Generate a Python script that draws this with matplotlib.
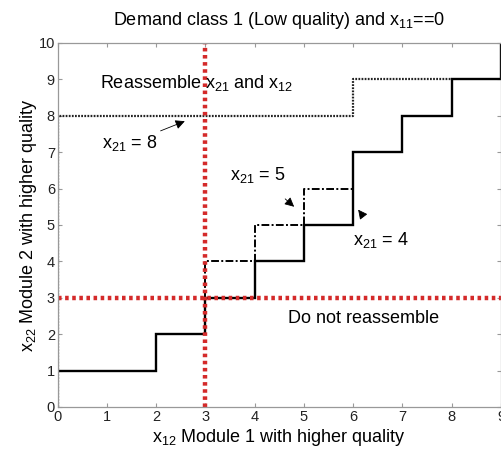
import matplotlib
matplotlib.use("Agg")
import matplotlib.pyplot as plt

plt.rcParams['font.family'] = ['Liberation Sans', 'DejaVu Sans']
plt.rcParams['mathtext.fontset'] = 'custom'
plt.rcParams['mathtext.rm'] = 'Liberation Sans'
plt.rcParams['mathtext.default'] = 'regular'

# policy boundaries (step curves) for x21 = 4, 5, 8
x_b4 = [0, 2, 2, 3, 3, 4, 4, 5, 5, 6, 6, 7, 7, 8, 8, 9, 9]
y_b4 = [1, 1, 2, 2, 3, 3, 4, 4, 5, 5, 7, 7, 8, 8, 9, 9, 10]
x_b5 = [3, 3, 4, 4, 5, 5, 6]
y_b5 = [3, 4, 4, 5, 5, 6, 6]
x_b8 = [0, 0, 6, 6, 8]
y_b8 = [0, 8, 8, 9, 9]
x_thresh = 3
y_thresh = 3
xticks = list(range(0, 10))
yticks = list(range(0, 11))

fig = plt.figure(figsize=(5.02, 4.5), dpi=100)
ax = fig.add_axes([0.115, 0.0956, 0.883, 0.809])

ax.plot(x_b4, y_b4, color='black', lw=1.7, solid_joinstyle='miter')
ax.plot(x_b5, y_b5, color='black', lw=1.4, linestyle=(0, (4, 1.2, 1, 1.2)))
ax.plot(x_b8, y_b8, color='#222222', lw=1.6, linestyle=(0, (0.8, 0.6)))

red = '#d42a2a'
ax.axvline(x_thresh, color=red, lw=3.2, linestyle=(0, (0.8, 0.8)))
ax.axhline(y_thresh, color=red, lw=3.2, linestyle=(0, (0.8, 0.8)))

ax.set_xlim(0, 9)
ax.set_ylim(0, 10)
ax.set_xticks(xticks)
ax.set_yticks(yticks)
ax.tick_params(direction='in', top=True, right=True, length=3, color='#999999',
               labelsize=10.5, pad=2, labelcolor='#222222')
for s in ax.spines.values():
    s.set_color('#999999')
    s.set_linewidth(0.9)

fs = 13
ax.set_title('Demand class 1 (Low quality) and x$_{11}$==0', fontsize=fs, pad=13)
ax.set_xlabel('x$_{12}$ Module 1 with higher quality', fontsize=fs, labelpad=2)
ax.set_ylabel('x$_{22}$ Module 2 with higher quality', fontsize=fs, labelpad=0)

ax.text(0.85, 8.9, 'Reassemble x$_{21}$ and x$_{12}$', fontsize=fs, va='center', ha='left')
ax.text(6.2, 2.42, 'Do not reassemble', fontsize=fs, va='center', ha='center')

arrow = dict(arrowstyle='-|>', color='black', lw=0.6, mutation_scale=14)
ax.annotate('x$_{21}$ = 8', xy=(2.58, 7.85), xytext=(1.47, 7.25), fontsize=fs,
            ha='center', va='center', arrowprops=dict(arrow, shrinkA=22, shrinkB=0))
ax.annotate('x$_{21}$ = 5', xy=(4.8, 5.5), xytext=(4.07, 6.37), fontsize=fs,
            ha='center', va='center', arrowprops=dict(arrow, shrinkA=12, shrinkB=0))
ax.annotate('x$_{21}$ = 4', xy=(6.1, 5.42), xytext=(6.57, 4.59), fontsize=fs,
            ha='center', va='center', arrowprops=dict(arrow, shrinkA=10, shrinkB=0))

fig.savefig('out.png', dpi=100)
